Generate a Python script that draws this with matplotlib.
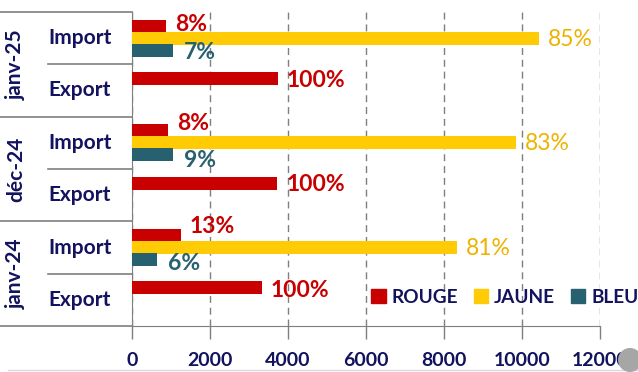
import matplotlib
matplotlib.use("Agg")
import matplotlib.pyplot as plt
import matplotlib.transforms as mtransforms
from matplotlib.lines import Line2D
from matplotlib.patches import Patch, Circle
import numpy as np

# data
periods = ["janv-25", "déc-24", "janv-24"]
flows = ["Import", "Export"]
rouge = [864, 3744, 931, 3726, 1256, 3325]
jaune = [10436, 0, 9838, 0, 8325, 0]
bleu = [1060, 0, 1060, 0, 633, 0]
rouge_lbl = ["8%", "100%", "8%", "100%", "13%", "100%"]
jaune_lbl = ["85%", "", "83%", "", "81%", ""]
bleu_lbl = ["7%", "", "9%", "", "6%", ""]
xticks = [0, 2000, 4000, 6000, 8000, 10000, 12000]

RED = "#C80000"
YELLOW = "#FFCB05"
TEAL = "#27616F"
NAVY = "#12125E"
GRID = "#7F7F7F"
FONT = "Lato"

plt.rcParams["font.family"] = [FONT, "DejaVu Sans"]

fig = plt.figure(figsize=(6.38, 3.72), dpi=100)
ax = fig.add_axes([132 / 638, 1 - 326 / 372, 468 / 638, 314 / 372])

y = np.arange(len(rouge))
h = 0.245
off = 0.23
ax.barh(y - off, rouge, height=h, color=RED, zorder=3)
ax.barh(y, jaune, height=h, color=YELLOW, zorder=3)
ax.barh(y + off, bleu, height=h, color=TEAL, zorder=3)


# value labels, nudged in pixels like the original
def put(vals, ypos, labels, dy, color, weight, dx=9):
    for i, (v, yy, t) in enumerate(zip(vals, ypos, labels)):
        if not t:
            continue
        d = dy[i] if isinstance(dy, list) else dy
        ax.annotate(t, (v, yy), xytext=(dx * 0.72, -d * 0.72), textcoords="offset points",
                    ha="left", va="center", color=color, fontsize=16.5,
                    fontweight=weight, zorder=5)


put(rouge, y - off, rouge_lbl, [-2, 2, -7, 1, -9, 3], RED, "bold")
put(jaune, y, jaune_lbl, 1, "#EDB300", "normal")
put(bleu, y + off, bleu_lbl, [2, 0, 6, 0, 4, 0], TEAL, "bold", dx=11)

ax.set_xlim(0, 12000)
ax.set_ylim(len(rouge) - 0.5, -0.5)
ax.set_xticks(xticks)
ax.set_xticklabels([str(t) for t in xticks], fontsize=14, fontweight="bold", color=NAVY)
ax.tick_params(axis="x", length=9, color=GRID, width=1, pad=10)
ax.set_yticks([])
ax.xaxis.grid(True, color=GRID, linestyle=(0, (5, 3.5)), linewidth=1)
ax.set_axisbelow(True)
for s in ["top", "right"]:
    ax.spines[s].set_visible(False)
ax.spines["bottom"].set_color(GRID)
ax.spines["left"].set_color(GRID)
for t in ax.xaxis.get_ticklines():
    t.set_linestyle((0, (5, 3.5)))

# left table: category and period labels with separators
tr = mtransforms.blended_transform_factory(ax.transAxes, ax.transData)
x_fig0 = -132 / 468
x_sub = (48 - 132) / 468
for i in range(len(rouge)):
    ax.text((80 - 132) / 468, i, flows[i % 2], transform=tr, ha="center", va="center",
            fontsize=15, fontweight="bold", color=NAVY)
for g, p in enumerate(periods):
    ax.text((16 - 132) / 468, 2 * g + 0.5, p, transform=tr, ha="center", va="center",
            rotation=90, fontsize=15, fontweight="bold", color=NAVY)
for b in np.arange(-0.5, len(rouge), 2):
    ax.add_line(Line2D([x_fig0, 0], [b, b], transform=tr, color=GRID, lw=1.2, clip_on=False))
for b in np.arange(0.5, len(rouge), 2):
    ax.add_line(Line2D([x_sub, 0], [b, b], transform=tr, color=GRID, lw=1.2, clip_on=False))

# legend
handles = [Patch(color=RED, label="ROUGE"), Patch(color=YELLOW, label="JAUNE"),
           Patch(color=TEAL, label="BLEU")]
leg = ax.legend(handles=handles, loc="center left", bbox_to_anchor=(0.495, 0.092),
                ncol=3, frameon=False, handlelength=0.75, handleheight=0.75,
                handletextpad=0.3, columnspacing=0.85, borderaxespad=0,
                prop={"family": FONT, "size": 13.7, "weight": "bold"})
for t in leg.get_texts():
    t.set_color(NAVY)

# scan leftovers at the bottom edge
fig.add_artist(Line2D([8 / 638, 1], [2 / 372, 2 / 372], transform=fig.transFigure,
                      color="#D9D9D9", lw=1))
fig.add_artist(Circle((630, 372 - 360), 12, transform=None, facecolor="#A6A6A6",
                      edgecolor="none", zorder=10))

fig.savefig("out.png", dpi=100)
